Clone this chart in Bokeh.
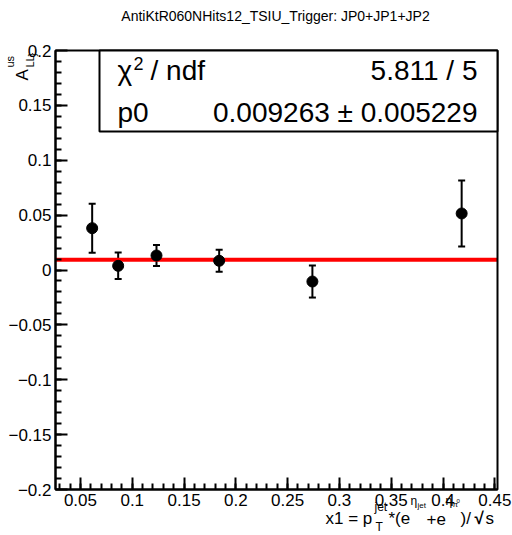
import numpy as np
from bokeh.plotting import figure
from bokeh.models import (ColumnDataSource, Range1d, FixedTicker, Whisker, TeeHead,
                          Label, BoxAnnotation)
from bokeh.embed import file_html
from bokeh.resources import INLINE

# ---------------- data ----------------
TITLE = "AntiKtR060NHits12_TSIU_Trigger: JP0+JP1+JP2"
x_vals = [0.0613, 0.0864, 0.1234, 0.1839, 0.2739, 0.4180]
y_vals = [0.0381, 0.0038, 0.0132, 0.0084, -0.0105, 0.0515]
y_errs = [0.0223, 0.0121, 0.0096, 0.0100, 0.0146, 0.0301]
fit_p0 = 0.009263
fit_p0_err = 0.005229
chi2 = 5.811
ndf = 5

x_ticks = [0.05, 0.1, 0.15, 0.2, 0.25, 0.3, 0.35, 0.4, 0.45]
x_tick_labels = ["0.05", "0.1", "0.15", "0.2", "0.25", "0.3", "0.35", "0.4", "0.45"]
y_ticks = [-0.2, -0.15, -0.1, -0.05, 0, 0.05, 0.1, 0.15, 0.2]
y_tick_labels = ["\u22120.2", "\u22120.15", "\u22120.1", "\u22120.05", "0",
                 "0.05", "0.1", "0.15", "0.2"]

XMIN, XMAX = 0.0259, 0.4526
YMIN, YMAX = -0.2, 0.2

# ---------------- layout ----------------
W, H = 512, 535
FL, FR, FT, FB = 55, 497, 50, 489   # visible frame box, canvas px
FONT = "Liberation Sans"

sx = (XMAX - XMIN) / (FR - FL)
sy = (YMAX - YMIN) / (FB - FT)
p = figure(width=W, height=H, output_backend="svg", toolbar_location=None,
           x_range=Range1d(XMIN - FL * sx, XMAX + (W - FR) * sx),
           y_range=Range1d(YMIN - (H - FB) * sy, YMAX + FT * sy),
           min_border=0, min_border_left=0, min_border_right=0,
           min_border_top=0, min_border_bottom=0)
p.title.visible = False
p.background_fill_color = "white"
p.border_fill_color = "white"
p.outline_line_color = None
p.xgrid.visible = False
p.ygrid.visible = False

x_minor = [round(v, 2) for v in np.arange(0.03, 0.4501, 0.01)]
y_minor = [round(v, 2) for v in np.arange(-0.19, 0.1901, 0.01)]
p.xaxis.ticker = FixedTicker(ticks=x_ticks, minor_ticks=x_minor)
p.yaxis.ticker = FixedTicker(ticks=y_ticks, minor_ticks=y_minor)
p.xaxis.major_label_overrides = dict(zip(x_ticks, x_tick_labels))
p.yaxis.major_label_overrides = dict(zip(y_ticks, y_tick_labels))
p.xaxis.fixed_location = YMIN
p.yaxis.fixed_location = XMIN
p.xaxis.bounds = (XMIN, XMAX)
p.yaxis.bounds = (YMIN, YMAX)

for ax in (p.xaxis, p.yaxis):
    ax.axis_line_width = 2
    ax.axis_line_color = "black"
    ax.major_tick_in = 12
    ax.major_tick_out = 0
    ax.minor_tick_in = 6
    ax.minor_tick_out = 0
    ax.major_tick_line_width = 2
    ax.minor_tick_line_width = 2
    ax.major_tick_line_color = "black"
    ax.minor_tick_line_color = "black"
    ax.major_label_text_font = FONT
    ax.major_label_text_font_size = "17px"
    ax.major_label_text_color = "black"
    ax.major_label_standoff = 4

# frame box
p.add_layout(BoxAnnotation(left=XMIN, right=XMAX, bottom=YMIN, top=YMAX,
                           fill_color=None, fill_alpha=0,
                           line_color="black", line_alpha=1.0, line_width=2))

# ---------------- data marks ----------------
src = ColumnDataSource(dict(
    x=x_vals, y=y_vals,
    upper=[y + e for y, e in zip(y_vals, y_errs)],
    lower=[y - e for y, e in zip(y_vals, y_errs)],
))
wh = Whisker(source=src, base="x", upper="upper", lower="lower",
             line_color="black", line_width=2,
             upper_head=TeeHead(size=7, line_color="black", line_width=2),
             lower_head=TeeHead(size=7, line_color="black", line_width=2))
p.add_layout(wh)

p.line(x=[XMIN, XMAX], y=[fit_p0, fit_p0], line_color="#ff0000", line_width=4)
p.scatter(x="x", y="y", source=src, size=11, color="black")


# ---------------- texts ----------------
def at(X, Y):
    """canvas px -> data coords"""
    return (XMIN + (X - FL) * sx, YMAX - (Y - FT) * sy)


MID = 0.3465  # baseline -> middle of text box, in em


def lab(X, Y, text, size, align="left", angle=0.0, style="normal"):
    """(X, Y): start of the text on its baseline, canvas px"""
    if angle:
        X = X - MID * size
    else:
        Y = Y - MID * size
    x, y = at(X, Y)
    p.add_layout(Label(x=x, y=y, text=text, text_font=FONT,
                       text_font_size=f"{size}px", text_align=align,
                       text_baseline="middle", angle=angle,
                       text_font_style=style, text_color="black"))


# title
lab(275, 20, TITLE, 14, align="center")

# stats box
bl, _ = at(99, 0)
_, bb = at(0, 131)
p.add_layout(BoxAnnotation(left=bl, right=XMAX, top=YMAX, bottom=bb,
                           fill_color="white", fill_alpha=1.0,
                           line_color="black", line_alpha=1.0, line_width=2))
lab(117, 80, "\u03c7", 28)
lab(133, 69, "2", 18)
lab(150, 80, "/ ndf", 28)
lab(477, 80, f"{chi2:.3f} / {ndf}", 28, align="right")
lab(117, 122, "p0", 28)
lab(477, 122, f"{fit_p0:.6f} \u00b1 {fit_p0_err:.6f}", 28, align="right")

# y axis title  A_{LL}^{us}}
ang = np.pi / 2
lab(28, 80, "A", 17, angle=ang)
lab(13, 67, "us", 11, angle=ang)
lab(33, 67, "LL", 11, angle=ang)
lab(35, 56, "}", 11, angle=ang)

# x axis title
B = 524
lab(325, B, "x1 = p", 17)
lab(374, B - 13, "jet", 12)
lab(375, B + 7, "T", 12)
lab(388, B, "*(e", 17)
lab(410, B - 19, "\u03b7", 12)
lab(417, B - 16, "jet", 8)
lab(426, B, "+e", 17)
lab(445, B - 19, "\u03b7", 12)
lab(452, B - 17, "\u03c0", 8)
lab(456, B - 21, "0", 6)
lab(460, B, ")/", 17)
lab(474, B, "\u221a", 17, style="bold")
lab(485, B, "s", 17)

open("out.html", "w").write(file_html(p, INLINE))
